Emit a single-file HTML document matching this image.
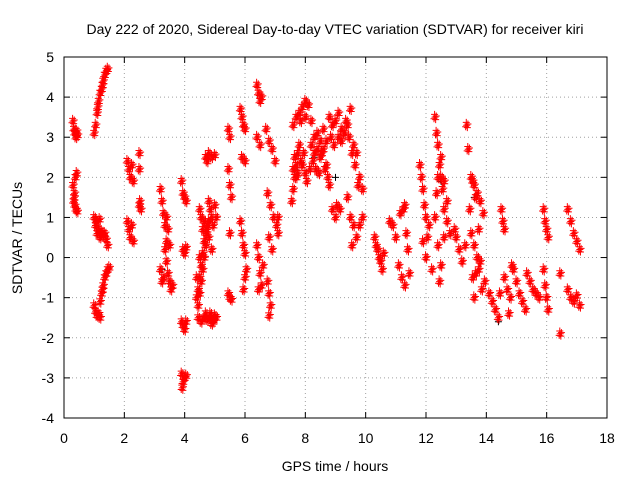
<!DOCTYPE html>
<html><head><meta charset="utf-8"><style>
body{margin:0;background:#fff}
svg{font-family:"Liberation Sans",sans-serif}
</style></head><body>
<svg id="c" width="640" height="480" xmlns="http://www.w3.org/2000/svg">
<rect width="640" height="480" fill="#fff"/>
<text x="335" y="34" font-size="14" text-anchor="middle">Day 222 of 2020, Sidereal Day-to-day VTEC variation (SDTVAR) for receiver kiri</text>
<text x="335" y="471" font-size="14" text-anchor="middle">GPS time / hours</text>
<text x="22" y="238" font-size="14" text-anchor="middle" transform="rotate(-90 22 238)">SDTVAR / TECUs</text>
<g id="grid"></g>
<g id="pts"></g>
<rect x="64" y="57" width="543" height="361" fill="none" stroke="#000"/>
<g id="ticks"></g>
</svg>
<script>
const xTicks=[0,2,4,6,8,10,12,14,16,18];
const yTicks=[-4,-3,-2,-1,0,1,2,3,4,5];
const redPts=[
[0.3,3.4],[0.33,3.2],[0.36,3.1],[0.4,3.0],[0.42,3.15],[0.45,3.05],[0.3,1.8],[0.35,1.6],[0.38,2.0],[0.42,2.1],[0.32,1.4],[0.36,1.3],[0.4,1.2],[0.44,1.15],[0.34,1.5],
[1.0,3.1],[1.05,3.3],[1.1,3.6],[1.15,3.9],[1.2,4.1],[1.25,4.2],[1.3,4.4],[1.35,4.55],[1.4,4.65],[1.45,4.7],[1.12,3.75],[1.28,4.3],
[1.0,1.0],[1.05,0.8],[1.1,0.6],[1.15,0.7],[1.2,0.5],[1.25,0.65],[1.3,0.55],[1.35,0.6],[1.4,0.45],[1.45,0.3],[1.08,0.9],[1.18,0.95],
[1.0,-1.2],[1.05,-1.35],[1.1,-1.45],[1.15,-1.4],[1.2,-1.5],[1.2,-1.1],[1.25,-0.9],[1.3,-0.7],[1.35,-0.5],[1.4,-0.4],[1.45,-0.3],[1.5,-0.25],[1.28,-0.8],
[2.1,2.4],[2.15,2.2],[2.2,2.0],[2.25,2.3],[2.3,1.9],[2.1,0.9],[2.15,0.7],[2.2,0.5],[2.25,0.8],[2.3,0.4],[2.5,2.6],[2.5,2.2],[2.52,1.4],[2.55,1.2],[2.5,1.3],
[3.2,1.7],[3.25,1.4],[3.3,1.1],[3.35,0.8],[3.4,1.0],[3.45,0.7],[3.2,-0.3],[3.25,-0.6],[3.3,-0.5],[3.35,0.2],[3.4,-0.1],[3.45,-0.4],[3.5,-0.6],[3.55,-0.8],[3.6,-0.7],[3.5,0.3],[3.4,0.4],
[3.9,1.9],[3.95,1.6],[4.0,1.5],[4.05,1.4],[3.95,0.2],[4.0,0.1],[4.05,0.25],[3.9,-1.6],[3.95,-1.7],[4.0,-1.8],[4.05,-1.6],[3.9,-2.9],[3.95,-3.1],[4.0,-3.0],[4.05,-2.95],[3.92,-3.25],
[4.4,-1.0],[4.45,-0.8],[4.5,-0.5],[4.55,-0.2],[4.6,0.1],[4.65,0.4],[4.7,0.6],[4.75,0.8],[4.5,1.2],[4.55,1.0],[4.6,0.7],[4.65,0.9],
[4.45,-1.5],[4.55,-1.6],[4.65,-1.5],[4.75,-1.55],[4.85,-1.5],[4.95,-1.6],[5.05,-1.5],[4.7,-1.4],[4.9,-1.65],
[4.7,2.5],[4.8,2.6],[4.9,2.5],[5.0,2.55],[4.75,2.4],[4.8,1.4],[4.85,1.2],[4.9,1.0],[4.95,0.8],[5.0,1.3],[5.05,1.0],[4.8,0.5],[4.9,0.2],[4.4,-0.5],[4.5,0.0],
[4.45,-1.2],[4.5,-0.9],[4.55,-0.6],[4.6,-0.3],[4.65,0.0],[4.7,0.3],[4.75,0.7],[4.8,0.9],[4.85,-1.4],[5.0,-1.45],
[5.45,3.2],[5.5,3.0],[5.45,2.2],[5.5,1.8],[5.55,1.5],[5.5,0.6],[5.45,-0.9],[5.5,-1.0],[5.55,-1.05],
[5.85,3.7],[5.9,3.5],[5.95,3.3],[6.0,3.2],[5.9,2.5],[6.0,2.4],[5.85,0.9],[5.9,0.6],[5.95,0.3],[6.0,0.1],[6.05,-0.3],[6.0,-0.5],[5.95,-0.8],
[6.4,4.3],[6.45,4.1],[6.5,3.9],[6.55,4.0],[6.4,3.0],[6.5,2.8],[6.4,0.3],[6.45,0.0],[6.5,-0.4],[6.55,-0.7],[6.45,-0.8],[6.6,-0.2],
[6.7,3.2],[6.8,2.9],[6.9,2.7],[7.0,2.4],[6.75,1.6],[6.85,1.3],[6.95,1.0],[7.05,0.8],[7.1,0.6],[6.8,0.5],[6.9,0.2],[6.75,-0.6],[6.8,-0.9],[6.85,-1.2],[6.8,-1.45],[7.1,1.0],
[7.55,1.4],[7.6,1.7],[7.65,2.0],[7.7,2.3],[7.75,2.6],[7.6,3.3],[7.7,3.5],[7.8,3.6],[7.9,3.75],[8.0,3.9],[8.1,3.8],[7.8,2.8],[7.9,2.3],[8.0,2.1],[8.05,1.9],[7.7,2.0],
[7.6,2.2],[7.65,2.5],[7.75,2.1],[7.85,2.4],[7.95,2.6],[8.0,3.5],[7.85,3.4],
[8.2,3.4],[8.3,3.0],[8.4,2.7],[8.5,2.5],[8.6,3.2],[8.7,2.9],[8.8,1.8],[8.9,1.2],[9.0,1.0],[8.25,2.4],[8.35,2.2],[8.45,2.1],[8.55,2.6],[8.8,3.5],[8.9,3.3],[9.0,3.4],[9.1,3.6],[9.2,3.2],[9.05,1.3],[9.15,1.2],
[8.2,2.8],[8.3,2.6],[8.4,3.1],[8.5,2.9],[8.6,2.7],[8.7,2.3],[8.75,2.0],[8.85,3.0],[8.95,2.8],[9.1,3.0],[9.2,2.9],[8.15,2.2],[8.65,2.2],
[9.3,3.1],[9.4,3.3],[9.5,3.7],[9.6,2.8],[9.7,2.6],[9.8,2.0],[9.9,1.7],[9.4,1.5],[9.5,1.0],[9.6,0.8],[9.7,0.5],[9.8,0.8],[9.9,1.0],[9.55,0.3],
[9.35,3.4],[9.45,3.0],[9.55,2.6],[9.65,2.3],[9.75,1.8],
[10.3,0.5],[10.35,0.3],[10.4,0.2],[10.45,0.0],[10.5,-0.1],[10.55,-0.3],[10.6,0.1],
[10.8,0.9],[10.9,0.8],[11.0,0.5],[11.1,-0.2],[11.2,-0.5],[11.3,-0.7],[11.15,1.1],[11.25,1.2],[11.35,0.6],[11.4,0.2],[11.45,-0.4],[11.3,1.3],
[11.8,2.3],[11.85,2.0],[11.9,1.7],[11.95,1.3],[12.0,1.0],[12.05,0.5],[11.9,0.4],[12.0,0.0],[12.1,0.8],[12.2,-0.3],
[12.3,3.5],[12.35,3.1],[12.4,2.8],[12.45,2.3],[12.5,2.0],[12.55,1.7],[12.6,1.2],[12.7,0.9],[12.8,0.6],[12.4,0.3],[12.5,-0.2],[12.45,-0.6],[12.6,0.5],[12.3,1.0],
[12.4,2.0],[12.5,2.5],[12.6,1.9],[12.7,1.4],[12.35,1.6],
[12.95,0.7],[13.0,0.5],[13.1,0.2],[13.2,-0.1],[13.3,0.3],
[13.35,3.3],[13.4,2.7],[13.5,2.0],[13.6,1.8],[13.7,1.6],[13.8,1.4],[13.9,1.1],[13.5,0.6],[13.6,0.3],[13.7,0.0],[13.55,-0.5],[13.6,-1.0],[13.75,-0.3],[13.85,-0.8],[13.95,-0.6],[13.45,1.2],
[13.55,1.9],[13.65,1.5],[13.75,0.7],[13.65,-0.4],[13.8,-0.1],
[14.1,-0.9],[14.2,-1.1],[14.3,-1.3],[14.4,-1.5],[14.5,1.2],[14.55,0.9],[14.6,0.7],[14.45,-0.9],
[14.6,-0.5],[14.7,-0.8],[14.8,-1.0],[14.9,-0.3],[15.0,-0.6],[15.1,-0.9],[15.2,-1.1],[15.3,-1.3],[14.75,-1.4],[14.85,-0.2],
[15.35,-0.4],[15.45,-0.6],[15.55,-0.8],[15.65,-0.9],[15.75,-1.0],
[15.9,1.2],[15.95,0.9],[16.0,0.7],[16.05,0.5],[15.9,-0.3],[15.95,-0.7],[16.0,-1.0],[16.05,-1.3],
[16.45,-0.4],[16.45,-1.9],
[16.7,1.2],[16.8,0.9],[16.9,0.6],[17.0,0.4],[17.1,0.2],[16.7,-0.8],[16.8,-1.0],[16.9,-1.1],[17.0,-0.95],[17.1,-1.2]
];
const blackPts=[[1.05,0.8],[3.25,-0.3],[7.65,2.2],[8.3,2.5],[9.0,2.0],[12.5,1.9],[13.6,1.5],[14.4,-1.6]];
const X0=64,X1=607,Y0=418,Y1=57;
const sx=t=>X0+(t-0)/18*(X1-X0);
const sy=v=>Y0-(v+4)/9*(Y0-Y1);
const NS="http://www.w3.org/2000/svg";
const grid=document.getElementById('grid'),ticks=document.getElementById('ticks'),pts=document.getElementById('pts');
function mk(tag,attrs,parent){const e=document.createElementNS(NS,tag);for(const k in attrs)e.setAttribute(k,attrs[k]);parent.appendChild(e);return e;}
xTicks.forEach(t=>{const x=sx(t);
 if(t>0&&t<18){const l=mk('line',{x1:x,x2:x,y1:Y0,y2:Y1,stroke:'#a0a0a0','stroke-dasharray':'1,3'},grid);}
 mk('line',{x1:x,x2:x,y1:Y0,y2:Y0-6,stroke:'#000'},ticks);mk('line',{x1:x,x2:x,y1:Y1,y2:Y1+6,stroke:'#000'},ticks);
 const tx=mk('text',{x:x,y:443,'font-size':14,'text-anchor':'middle'},ticks);tx.textContent=t;
 });
yTicks.forEach(v=>{const y=sy(v);
 if(v>-4&&v<5){const l=mk('line',{x1:X0,x2:X1,y1:y,y2:y,stroke:'#a0a0a0','stroke-dasharray':'1,3'},grid);}
 mk('line',{x1:X0,x2:X0+6,y1:y,y2:y,stroke:'#000'},ticks);mk('line',{x1:X1,x2:X1-6,y1:y,y2:y,stroke:'#000'},ticks);
 const tx=mk('text',{x:54,y:y+5,'font-size':14,'text-anchor':'end'},ticks);tx.textContent=v;
 });
function plus(p,col){const x=sx(p[0]),y=sy(p[1]);
 const g=mk('path',{d:`M${x-3.5} ${y}h7M${x} ${y-3.5}v7`,stroke:col,'stroke-width':1,fill:'none'},pts);
 }
blackPts.forEach(p=>plus(p,'#000'));
redPts.forEach(p=>{plus(p,'#ff0000');plus([p[0]+0.02,p[1]-0.06],'#ff0000');plus([p[0]-0.015,p[1]+0.07],'#ff0000');plus([p[0]+0.04,p[1]+0.03],'#ff0000');plus([p[0]-0.035,p[1]-0.04],'#ff0000');});
</script>
</body></html>
